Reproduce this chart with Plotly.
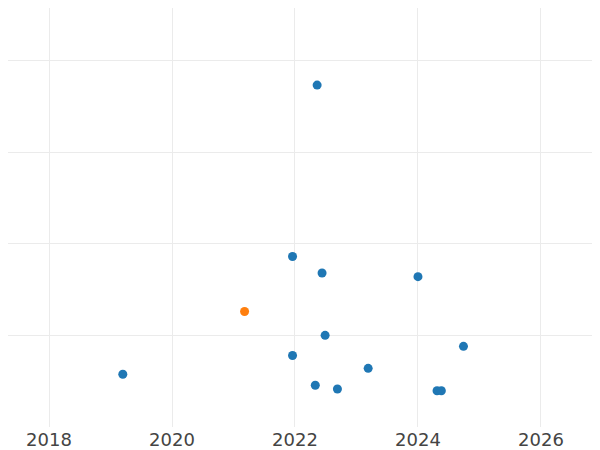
import plotly.graph_objects as go

# Blue series (year, value)
blue_x = [2022.36, 2021.96, 2022.44, 2024.0, 2022.49, 2024.74, 2021.96,
          2023.19, 2019.2, 2022.33, 2022.69, 2024.31, 2024.38]
blue_y = [37.3, 18.6, 16.8, 16.4, 10.0, 8.8, 7.8, 6.4, 5.75, 4.55, 4.15, 3.95, 3.95]

# Highlighted point
orange_x = [2021.18]
orange_y = [12.6]

years = [2018, 2020, 2022, 2024, 2026]

fig = go.Figure()

fig.add_trace(go.Scatter(
    x=blue_x,
    y=blue_y,
    mode='markers',
    marker=dict(color='#1f77b4', size=9),
    showlegend=False
))

fig.add_trace(go.Scatter(
    x=orange_x,
    y=orange_y,
    mode='markers',
    marker=dict(color='#ff7f0e', size=9),
    showlegend=False
))

# page has an 8px body margin, so the figure is sized to fill the rest
fig.update_layout(
    width=592,
    height=442,
    margin=dict(l=0, r=0, t=0, b=23),
    paper_bgcolor='white',
    plot_bgcolor='white',
    font=dict(family='DejaVu Sans', color='#444444', size=18),
    xaxis=dict(
        range=[2017.333, 2026.96],
        tickvals=years,
        ticktext=[str(y) for y in years],
        showgrid=True,
        gridcolor='#ebebeb',
        gridwidth=1,
        zeroline=False,
        showline=False,
        automargin=False
    ),
    yaxis=dict(
        range=[0, 45.71],
        tickvals=[10, 20, 30, 40],
        showticklabels=False,
        showgrid=True,
        gridcolor='#ebebeb',
        gridwidth=1,
        zeroline=False,
        showline=False,
        automargin=False
    )
)

fig.write_html("out.html")
